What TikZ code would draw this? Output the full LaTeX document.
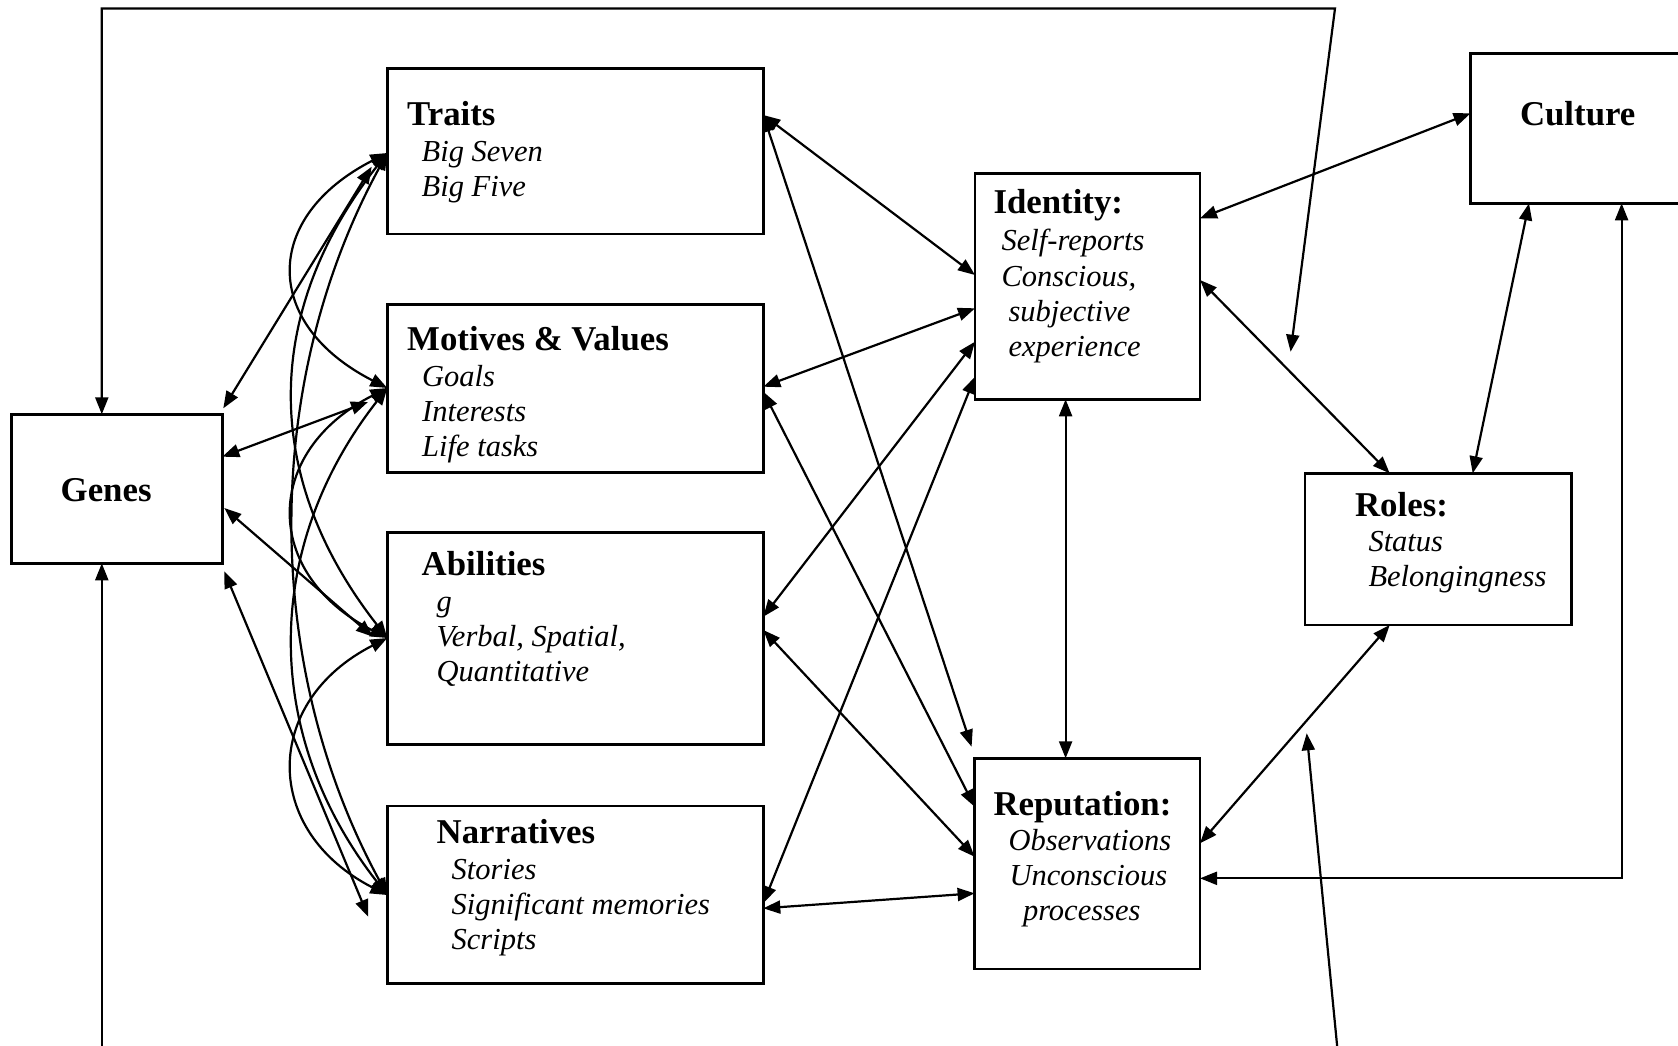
\documentclass[tikz,border=0pt]{standalone}
\usepackage{fontspec}
\setmainfont{Liberation Serif}
\usetikzlibrary{arrows.meta,calc}
\begin{document}
\begin{tikzpicture}[x=1pt,y=-1pt,
  box/.style={draw, line width=2.8pt, rectangle, inner sep=0pt, outer sep=0pt, anchor=north west},
  ttl/.style={anchor=base west, inner sep=0pt, font=\fontsize{34.8}{40}\selectfont\bfseries},
  itm/.style={anchor=base west, inner sep=0pt, font=\fontsize{30.5}{35}\selectfont\itshape},
  con/.style={line width=2.2pt, {Triangle[length=17pt,width=13pt]}-{Triangle[length=17pt,width=13pt]}},
  one/.style={line width=2.2pt, -{Triangle[length=17pt,width=13pt]}}]
\useasboundingbox (0,0) rectangle (1678,1045);
\fill[white] (0,0) rectangle (1678,1045);
\clip (0,0) rectangle (1678,1045);

% boxes
\node[box, minimum width=210.5pt, minimum height=149pt] (genes) at (11.8,414.3) {};
\node[box, minimum width=376pt, minimum height=165.7pt] (traits) at (387.3,68.3) {};
\node[box, minimum width=376pt, minimum height=168pt] (motives) at (387.3,304.3) {};
\node[box, minimum width=376pt, minimum height=212pt] (abilities) at (387.3,532.3) {};
\node[box, minimum width=376pt, minimum height=177.3pt] (narratives) at (387.3,806) {};
\node[box, minimum width=225pt, minimum height=226pt] (identity) at (975,173.3) {};
\node[box, minimum width=229.4pt, minimum height=150pt] (culture) at (1470.6,53.3) {};
\node[box, minimum width=266.8pt, minimum height=151.7pt] (roles) at (1305,473.3) {};
\node[box, minimum width=225.4pt, minimum height=210.7pt] (reputation) at (974.6,758.3) {};

% texts
\node[ttl] (tgenes) at (60.5,501.7) {Genes};
\node[ttl] (ttraits) at (407,125) {Traits};
\node[itm] (ta1) at (421.5,161.7) {Big Seven};
\node[itm] (ta2) at (421.5,196.7) {Big Five};
\node[ttl] (tmot) at (407,350) {Motives \& Values};
\node[itm] (tm1) at (422,386.7) {Goals};
\node[itm] (tm2) at (422,421.7) {Interests};
\node[itm] (tm3) at (422,456) {Life tasks};
\node[ttl] (tabil) at (421.5,575) {Abilities};
\node[itm] (tb1) at (436.5,611.7) {g};
\node[itm] (tb2) at (436.5,646.7) {Verbal, Spatial,};
\node[itm] (tb3) at (436.5,681.7) {Quantitative};
\node[ttl] (tnarr) at (436.5,843.3) {Narratives};
\node[itm] (tn1) at (451.5,879) {Stories};
\node[itm] (tn2) at (451.5,914.3) {Significant memories};
\node[itm] (tn3) at (451.5,949) {Scripts};
\node[ttl] (tid) at (993.3,213.3) {Identity:};
\node[itm] (ti1) at (1001.4,250) {Self-reports};
\node[itm] (ti2) at (1001.4,286) {Conscious,};
\node[itm] (ti3) at (1008.3,321) {subjective};
\node[itm] (ti4) at (1008.3,356) {experience};
\node[ttl] (tcul) at (1519.8,125) {Culture};
\node[ttl] (trol) at (1354.9,516) {Roles:};
\node[itm] (tr1) at (1368.3,551.7) {Status};
\node[itm] (tr2) at (1368.3,586.7) {Belongingness};
\node[ttl] (trep) at (993.3,815) {Reputation:};
\node[itm] (te1) at (1008.3,850) {Observations};
\node[itm] (te2) at (1009.4,885) {Unconscious};
\node[itm] (te3) at (1022.8,920) {processes};

% free ends
\coordinate (loopTop) at (1290.6,351.7);
\coordinate (bottomL) at (101.8,1060);
\coordinate (bottomR) at (1338.5,1060);
\coordinate (bottomRtip) at (1306.7,733.3);

% outer loops
\draw[con] (loopTop) -- (1335,8.5) -- (101.8,8.5) -- (genes.north west -| 101.8,0);
\draw[one] (bottomL) -- (genes.south west -| 101.8,0);
\draw[one] (bottomR) -- (bottomRtip);

% genes to left boxes
\draw[con] ($(genes.north east)+(1,-6)$) -- ($(traits.west |- 0,166.7)+(-15.6,0)$);
\draw[con] (genes.east |- 0,456.7) -- ($(motives.west |- 0,402)+(-19.3,0)$);
\draw[con] ($(genes.east |- 0,508)+(2,0)$) -- ($(abilities.west |- 0,636.7)+(-14.3,0)$);
\draw[con] ($(genes.south east)+(2,8)$) -- ($(narratives.west |- 0,916.7)+(-19,0)$);

% curves among left boxes
\draw[con] (traits.west |- 0,153) .. controls (262,217) and (262,324) .. (motives.west |- 0,388);
\draw[con] (motives.west |- 0,388) .. controls (262,452) and (262,574) .. (abilities.west |- 0,638);
\draw[con] (abilities.west |- 0,638) .. controls (262,702) and (262,831) .. (narratives.west |- 0,895);
\draw[con] (traits.west |- 0,153) .. controls (262,313) and (262,478) .. (abilities.west |- 0,638);
\draw[con] (traits.west |- 0,153) .. controls (262,383) and (262,665) .. (narratives.west |- 0,895);
\draw[con] (motives.west |- 0,388) .. controls (262,548) and (262,735) .. (narratives.west |- 0,895);

% left boxes to identity / reputation
\draw[con] (traits.east |- 0,115) -- (identity.west |- 0,275);
\draw[con] (traits.east |- 0,115) -- ($(reputation.north west)+(-3,-11.6)$);
\draw[con] (motives.east |- 0,386.7) -- (identity.west |- 0,308.3);
\draw[con] (motives.east |- 0,391.7) -- (reputation.west |- 0,806.7);
\draw[con] (abilities.east |- 0,616.7) -- (identity.west |- 0,341.7);
\draw[con] (abilities.east |- 0,630) -- (reputation.west |- 0,856.7);
\draw[con] (narratives.east |- 0,903.3) -- (identity.west |- 0,376.7);
\draw[con] (narratives.east |- 0,908.3) -- (reputation.west |- 0,893.3);

% right part
\draw[con] (identity.south -| 1065.6,0) -- (reputation.north -| 1065.6,0);
\draw[con] (identity.east |- 0,218.3) -- (culture.west |- 0,113.3);
\draw[con] (identity.east |- 0,280) -- (roles.north -| 1389.7,0);
\draw[con] (culture.south -| 1529,0) -- (roles.north -| 1472.7,0);
\draw[con] (culture.south -| 1621.6,0) -- (1621.6,878.3) -- (reputation.east |- 0,878.3);
\draw[con] (roles.south -| 1389.7,0) -- (reputation.east |- 0,843.3);
\end{tikzpicture}
\end{document}
